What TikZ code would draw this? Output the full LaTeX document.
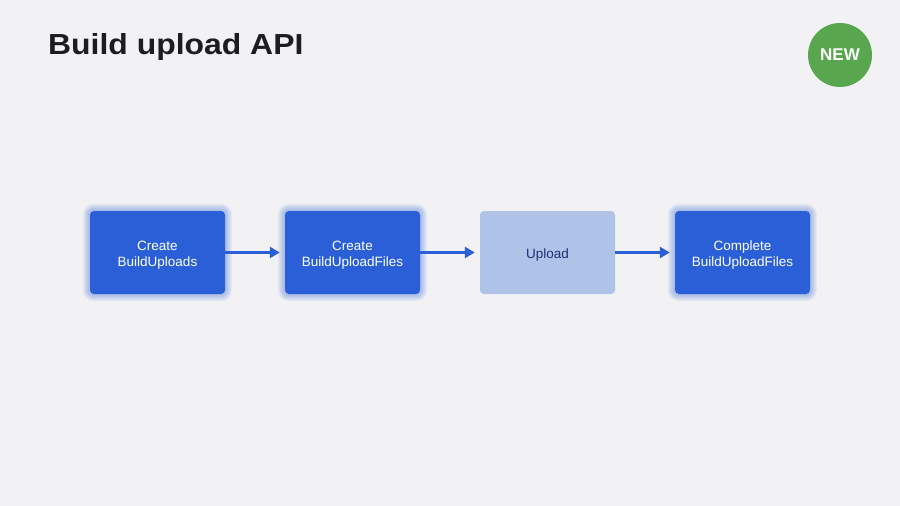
\documentclass[tikz,border=0pt]{standalone}
\usepackage{fontspec}
\setmainfont{Liberation Sans}
\usetikzlibrary{arrows.meta}
\definecolor{bg}{HTML}{F2F2F4}
\definecolor{stepblue}{HTML}{2A5FD8}
\definecolor{steplight}{HTML}{AFC3E8}
\definecolor{navy}{HTML}{1C3274}
\definecolor{newgreen}{HTML}{58A74E}
\definecolor{titlegray}{HTML}{1D1D1F}
\tikzset{
  stepbox/.style={rectangle, rounded corners=4pt, minimum width=135pt, minimum height=83pt,
    inner sep=0pt},
  activebox/.style={stepbox, fill=stepblue},
  pendingbox/.style={stepbox, fill=steplight},
  steptext/.style={inner sep=0pt, align=center, font=\fontsize{13.5}{16}\selectfont, yshift=-2.5pt},
  flow/.style={draw=stepblue, line width=2.6pt, -{Triangle[length=10pt,width=11pt]}, shorten >=5pt},
  glowlayer/.style={fill=stepblue, fill opacity=0.06, rounded corners=#1},
}
\newcommand{\glowbox}[1]{%
  \foreach \g in {1,2,3,4,5,6,7}{%
    \fill[glowlayer=4pt+\g pt] ([xshift=-\g pt,yshift=\g pt]#1.north west) rectangle ([xshift=\g pt,yshift=-\g pt]#1.south east);
  }%
}
\begin{document}
\begin{tikzpicture}[x=1pt,y=-1pt]
\fill[bg] (0,0) rectangle (900,506);
\useasboundingbox (0,0) rectangle (900,506);
\node[anchor=base west, text=titlegray, inner sep=0pt,
  font=\fontsize{29}{34}\bfseries\addfontfeature{FakeStretch=1.1}] (title) at (48,54) {Build upload API};
\node[circle, fill=newgreen, minimum size=64pt, inner sep=0pt, text=white,
  font=\fontsize{17}{20}\bfseries] (new) at (840,55) {NEW};
\coordinate (c1) at (157.5,252.5);
\coordinate (c2) at (352.5,252.5);
\coordinate (c3) at (547.5,252.5);
\coordinate (c4) at (742.5,252.5);
\path (c1) node[stepbox] (g1) {} (c2) node[stepbox] (g2) {} (c4) node[stepbox] (g4) {};
\glowbox{g1}\glowbox{g2}\glowbox{g4}
\node[activebox] (b1) at (c1) {};
\node[activebox] (b2) at (c2) {};
\node[pendingbox] (b3) at (c3) {};
\node[activebox] (b4) at (c4) {};
\node[steptext, text=white] (t1) at (b1.center) {Create\\BuildUploads};
\node[steptext, text=white] (t2) at (b2.center) {Create\\BuildUploadFiles};
\node[steptext, text=navy] (t3) at (b3.center) {Upload};
\node[steptext, text=white] (t4) at (b4.center) {Complete\\BuildUploadFiles};
\draw[flow] (b1) -- (b2);
\draw[flow] (b2) -- (b3);
\draw[flow] (b3) -- (b4);
\end{tikzpicture}
\end{document}
